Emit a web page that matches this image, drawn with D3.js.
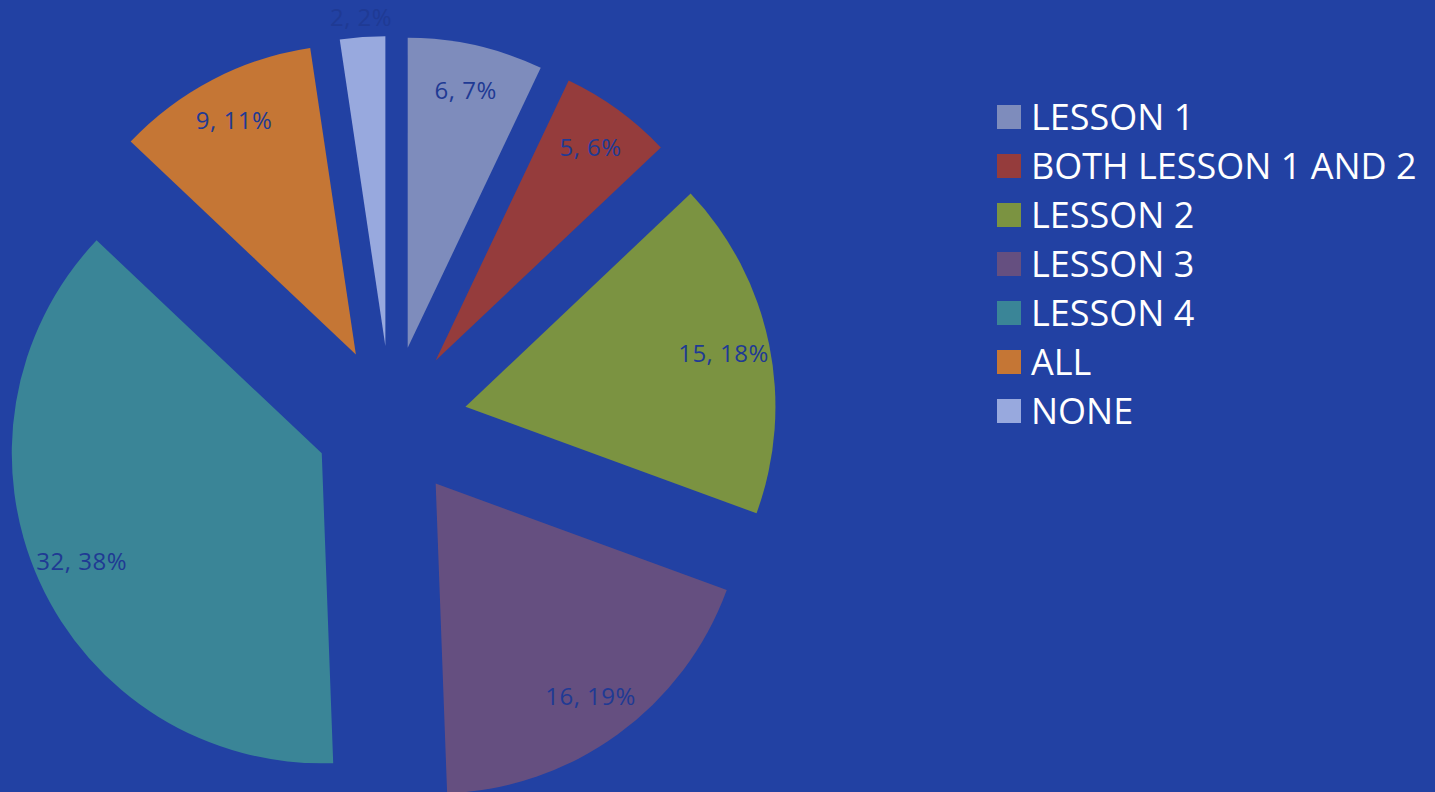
<!DOCTYPE html>
<html>
<head>
<meta charset="utf-8">
<script src="https://cdn.jsdelivr.net/npm/d3@7"></script>
<style>
  html, body { margin: 0; padding: 0; background: #2241a3; overflow: hidden; }
</style>
</head>
<body>
<div id="main"></div>
<script>
// categories and counts
const categories = ['LESSON 1', 'BOTH LESSON 1 AND 2', 'LESSON 2', 'LESSON 3', 'LESSON 4', 'ALL', 'NONE'];
const counts = [6, 5, 15, 16, 32, 9, 2];
const colors = ['#7e8cbc', '#953c3c', '#7b9341', '#654f80', '#3a8597', '#c57635', '#98a9de'];

const sliceData = categories.map((c, i) => ({ name: c, value: counts[i] }));
const total = d3.sum(counts);

const width = 1435, height = 792;
const cx = 391, cy = 422;      // pie centre
const radius = 310;
const explode = 76;            // every slice pulled out by the same amount

const colorScale = d3.scaleOrdinal().domain(categories).range(colors);

let svg = d3.select('#main')
    .append('svg')
        .attr('width', width)
        .attr('height', height);

svg.append('rect')
    .attr('width', width)
    .attr('height', height)
    .attr('fill', '#2241a3');

const pie = d3.pie().value(d => d.value).sort(null);
const arc = d3.arc().innerRadius(0).outerRadius(radius);
const arcs = pie(sliceData);

// offset vector along the bisector of a slice
function offset(d, dist) {
    const a = (d.startAngle + d.endAngle) / 2;
    return [Math.sin(a) * dist, -Math.cos(a) * dist];
}

const pieG = svg.append('g').attr('transform', `translate(${cx},${cy})`);

pieG.selectAll('.slice')
    .data(arcs)
    .enter()
    .append('path')
        .attr('class', 'slice')
        .attr('d', arc)
        .attr('transform', d => `translate(${offset(d, explode)})`)
        .style('fill', d => colorScale(d.data.name));

// labels: "count, percent" - small slices get pushed outside
pieG.selectAll('.label')
    .data(arcs)
    .enter()
    .append('text')
        .attr('class', 'label')
        .attr('transform', d => {
            const small = (d.endAngle - d.startAngle) < 0.2;
            const p = offset(d, explode + (small ? radius + 20 : radius * 0.85));
            return `translate(${p})`;
        })
        .attr('text-anchor', 'middle')
        .attr('dy', '0.35em')
        .style('font-family', '"Open Sans", sans-serif')
        .style('font-size', '24px')
        .style('letter-spacing', '0.5px')
        .style('fill', '#1f3a94')
        .text(d => `${d.data.value}, ${Math.round(d.data.value / total * 100)}%`);

// legend
const legend = svg.append('g').attr('transform', 'translate(997,130)');

const rows = legend.selectAll('.legend-row')
    .data(categories)
    .enter()
    .append('g')
        .attr('class', 'legend-row')
        .attr('transform', (d, i) => `translate(0,${i * 49})`);

rows.append('rect')
    .attr('x', 0)
    .attr('y', -25)
    .attr('width', 24)
    .attr('height', 24)
    .style('fill', d => colorScale(d));

rows.append('text')
    .attr('x', 34)
    .attr('y', 0)
    .style('font-family', '"Open Sans", sans-serif')
    .style('font-size', '36px')
    .style('fill', '#ffffff')
    .text(d => d);
</script>
</body>
</html>
